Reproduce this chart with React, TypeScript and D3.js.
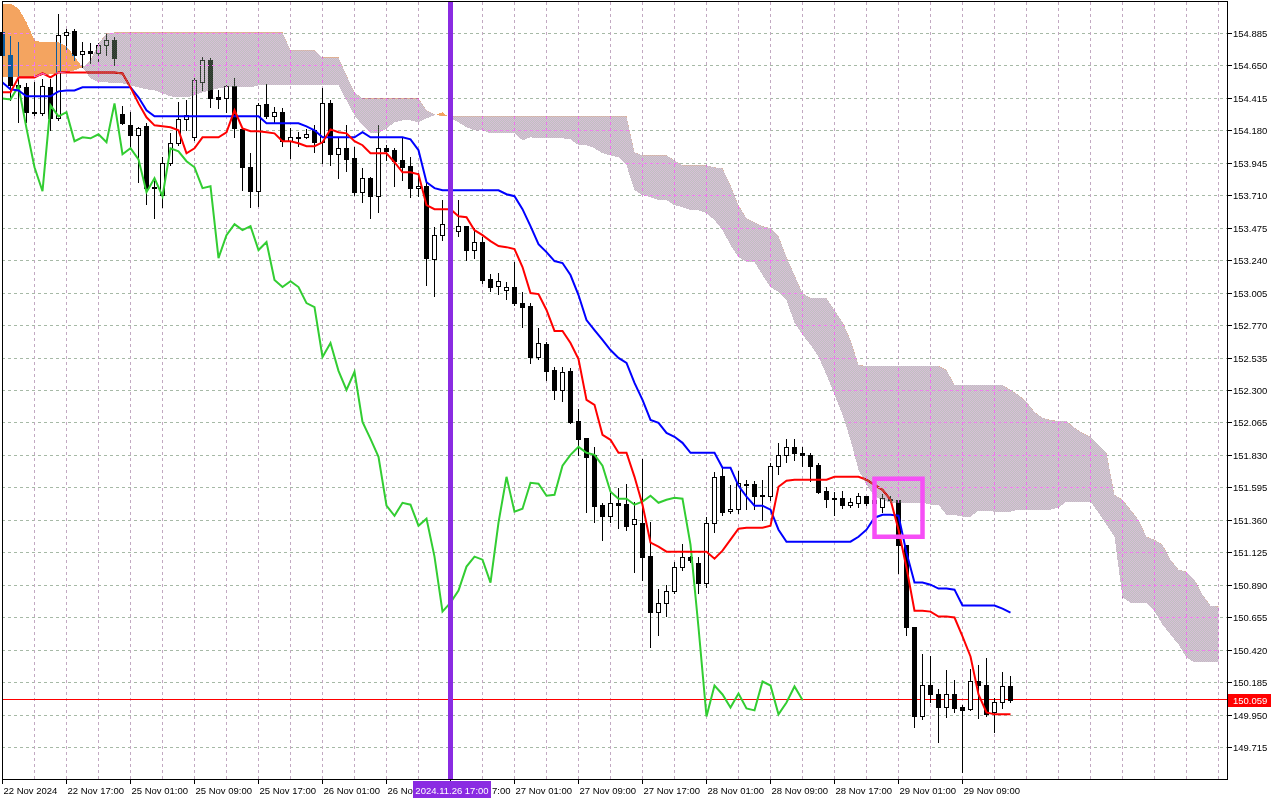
import React, { useRef, useEffect } from 'react';
import * as d3 from 'd3';

// USDJPY-like H1 candles, bar 0 = 22 Nov 09:00
const OPEN = [
  154.893, 154.726, 154.510, 154.495, 154.315, 154.308, 154.495, 154.271, 154.871, 154.900,
  154.733, 154.755, 154.741, 154.799, 154.835, 154.300, 154.220, 154.148, 154.213, 153.765,
  153.714, 153.945, 154.090, 154.264, 154.133, 154.531, 154.690, 154.423, 154.415, 154.503,
  154.191, 153.916, 153.743, 154.372, 154.285, 154.315, 154.105, 154.133, 154.133, 154.184,
  154.097, 154.379, 154.011, 154.054, 153.982, 153.736, 153.837, 153.707, 154.054, 154.040,
  153.967, 153.924, 153.765, 153.779, 153.252, 153.425, 153.505, 153.454, 153.490, 153.317,
  153.375, 153.107, 153.056, 153.027, 153.049, 152.933, 152.912, 152.543, 152.637, 152.449,
  152.304, 152.442, 152.080, 151.957, 151.834, 151.473, 151.393, 151.487, 151.480, 151.336,
  151.343, 151.104, 150.699, 150.764, 150.851, 151.025, 151.097, 151.054, 150.909, 151.343,
  151.683, 151.429, 151.444, 151.617, 151.625, 151.538, 151.538, 151.755, 151.834, 151.892,
  151.849, 151.834, 151.762, 151.574, 151.523, 151.523, 151.473, 151.487, 151.538, 151.487,
  151.458, 151.509, 151.509, 151.184, 150.584, 149.940, 150.164, 150.106, 150.005, 150.106,
  150.005, 149.991, 150.193, 150.164, 149.969, 150.041, 150.157,
];
const HIGH = [
  154.921, 154.864, 154.821, 154.524, 154.532, 154.553, 154.553, 155.023, 154.921, 154.921,
  154.821, 154.813, 154.813, 154.885, 154.857, 154.358, 154.315, 154.206, 154.234, 153.837,
  153.989, 154.162, 154.386, 154.401, 154.560, 154.712, 154.704, 154.473, 154.510, 154.560,
  154.198, 154.018, 154.379, 154.517, 154.350, 154.343, 154.198, 154.170, 154.191, 154.220,
  154.488, 154.401, 154.126, 154.220, 154.061, 153.909, 153.844, 154.220, 154.076, 154.054,
  154.126, 153.989, 153.873, 153.801, 153.483, 153.678, 153.548, 153.678, 153.490, 153.476,
  153.411, 153.143, 153.150, 153.085, 153.230, 153.013, 152.933, 152.753, 152.651, 152.471,
  152.471, 152.463, 152.167, 151.957, 151.892, 151.487, 151.560, 151.596, 151.625, 151.495,
  151.805, 151.350, 150.866, 150.894, 151.061, 151.191, 151.104, 151.097, 151.386, 151.711,
  151.740, 151.617, 151.719, 151.654, 151.646, 151.654, 151.776, 151.921, 151.950, 151.950,
  151.892, 151.849, 151.776, 151.603, 151.567, 151.574, 151.523, 151.560, 151.538, 151.531,
  151.552, 151.538, 151.509, 151.184, 150.584, 150.395, 150.374, 150.142, 150.273, 150.207,
  150.020, 150.280, 150.309, 150.366, 150.077, 150.265, 150.236,
];
const LOW = [
  154.690, 154.401, 154.242, 154.242, 154.293, 154.293, 154.184, 154.256, 154.763, 154.690,
  154.640, 154.668, 154.668, 154.726, 154.654, 154.227, 154.054, 153.808, 153.649, 153.548,
  153.627, 153.931, 154.076, 154.184, 154.112, 154.473, 154.350, 154.343, 154.315, 154.133,
  153.750, 153.627, 153.635, 154.271, 154.242, 154.069, 153.982, 154.069, 154.126, 154.025,
  153.945, 153.931, 153.837, 153.888, 153.714, 153.664, 153.548, 153.591, 153.967, 153.779,
  153.823, 153.700, 153.707, 153.063, 152.984, 153.389, 153.418, 153.418, 153.244, 153.259,
  153.078, 153.020, 152.998, 152.962, 152.919, 152.760, 152.500, 152.529, 152.377, 152.239,
  152.225, 152.066, 151.835, 151.422, 151.350, 151.220, 151.350, 151.307, 151.292, 150.988,
  150.930, 150.446, 150.533, 150.670, 150.837, 151.003, 151.061, 150.837, 150.880, 151.278,
  151.400, 151.415, 151.415, 151.444, 151.444, 151.364, 151.509, 151.697, 151.784, 151.798,
  151.755, 151.646, 151.560, 151.458, 151.400, 151.451, 151.458, 151.458, 151.473, 151.458,
  151.422, 151.495, 150.981, 150.526, 149.860, 149.918, 150.048, 149.752, 149.933, 149.969,
  149.535, 149.984, 149.926, 149.940, 149.824, 149.998, 150.048,
];
const CLOSE = [
  154.726, 154.510, 154.495, 154.315, 154.308, 154.503, 154.271, 154.871, 154.893, 154.726,
  154.755, 154.741, 154.799, 154.835, 154.704, 154.234, 154.148, 154.198, 153.765, 153.772,
  153.945, 154.090, 154.264, 154.293, 154.546, 154.690, 154.415, 154.408, 154.503, 154.198,
  153.916, 153.743, 154.365, 154.285, 154.315, 154.105, 154.133, 154.126, 154.155, 154.097,
  154.379, 154.011, 154.054, 153.974, 153.736, 153.837, 153.707, 154.054, 154.032, 153.960,
  153.916, 153.765, 153.779, 153.259, 153.425, 153.505, 153.461, 153.490, 153.317, 153.375,
  153.100, 153.049, 153.092, 153.049, 152.933, 152.904, 152.543, 152.644, 152.442, 152.304,
  152.435, 152.073, 151.950, 151.820, 151.466, 151.393, 151.487, 151.473, 151.321, 151.372,
  151.097, 150.699, 150.764, 150.851, 151.025, 151.097, 151.075, 150.909, 151.343, 151.675,
  151.422, 151.444, 151.632, 151.625, 151.538, 151.545, 151.755, 151.834, 151.892, 151.849,
  151.834, 151.755, 151.567, 151.516, 151.516, 151.473, 151.495, 151.538, 151.487, 151.509,
  151.523, 151.516, 151.184, 150.584, 149.940, 150.164, 150.099, 150.005, 150.106, 149.998,
  149.984, 150.193, 150.164, 149.955, 150.041, 150.157, 150.059,
];

const TENKAN = [
  154.459, 154.459, 154.567, 154.567, 154.567, 154.596, 154.567, 154.603, 154.603, 154.603,
  154.603, 154.603, 154.603, 154.603, 154.603, 154.596, 154.495, 154.379, 154.278, 154.220,
  154.213, 154.206, 154.184, 154.018, 154.054, 154.133, 154.133, 154.133, 154.170, 154.329,
  154.198, 154.177, 154.177, 154.170, 154.162, 154.105, 154.105, 154.090, 154.069, 154.069,
  154.097, 154.191, 154.170, 154.162, 154.105, 154.076, 154.018, 154.018, 154.018, 153.953,
  153.880, 153.880, 153.866, 153.642, 153.613, 153.613, 153.613, 153.562, 153.555, 153.461,
  153.425, 153.382, 153.346, 153.338, 153.324, 153.194, 153.006, 152.998, 152.883, 152.731,
  152.731, 152.644, 152.528, 152.232, 152.196, 151.979, 151.943, 151.849, 151.849, 151.675,
  151.473, 151.198, 151.169, 151.133, 151.133, 151.133, 151.133, 151.133, 151.133, 151.082,
  151.140, 151.220, 151.299, 151.307, 151.307, 151.307, 151.321, 151.603, 151.646, 151.654,
  151.654, 151.654, 151.654, 151.654, 151.675, 151.675, 151.675, 151.675, 151.654, 151.617,
  151.581, 151.509, 151.292, 151.017, 150.706, 150.706, 150.699, 150.663, 150.663, 150.656,
  150.519, 150.374, 150.099, 149.969, 149.955, 149.955, 149.955,
];
const KIJUN = [
  154.531, 154.481, 154.473, 154.430, 154.430, 154.430, 154.430, 154.466, 154.473, 154.473,
  154.495, 154.495, 154.495, 154.495, 154.495, 154.495, 154.495, 154.423, 154.329, 154.285,
  154.285, 154.285, 154.285, 154.285, 154.285, 154.285, 154.285, 154.285, 154.285, 154.285,
  154.285, 154.285, 154.285, 154.235, 154.235, 154.235, 154.235, 154.235, 154.213, 154.184,
  154.133, 154.133, 154.133, 154.133, 154.133, 154.170, 154.133, 154.133, 154.133, 154.133,
  154.133, 154.119, 154.040, 153.808, 153.765, 153.750, 153.750, 153.750, 153.750, 153.750,
  153.750, 153.750, 153.750, 153.721, 153.707, 153.613, 153.490, 153.360, 153.302, 153.237,
  153.223, 153.136, 152.991, 152.810, 152.738, 152.666, 152.593, 152.536, 152.500, 152.355,
  152.232, 152.087, 152.066, 151.993, 151.965, 151.921, 151.849, 151.849, 151.849, 151.849,
  151.740, 151.740, 151.610, 151.531, 151.466, 151.466, 151.437, 151.292, 151.205, 151.205,
  151.205, 151.205, 151.205, 151.205, 151.205, 151.205, 151.205, 151.241, 151.292, 151.379,
  151.400, 151.400, 151.393, 151.126, 150.909, 150.909, 150.894, 150.866, 150.866, 150.858,
  150.743, 150.743, 150.743, 150.743, 150.743, 150.721, 150.692,
];

// cloud, already shifted 26 bars forward (bars 0..152)
const SENKOU_A = [
  155.102, 155.102, 155.066, 154.965, 154.835, 154.820, 154.820, 154.820, 154.791, 154.719,
  154.640, 154.560, 154.531, 154.531, 154.524, 154.524, 154.510, 154.495, 154.481, 154.473,
  154.452, 154.430, 154.423, 154.423, 154.437, 154.459, 154.473, 154.488, 154.495, 154.495,
  154.495, 154.495, 154.510, 154.510, 154.510, 154.510, 154.510, 154.510, 154.510, 154.510,
  154.510, 154.510, 154.510, 154.401, 154.293, 154.220, 154.162, 154.162, 154.198, 154.242,
  154.256, 154.256, 154.242, 154.271, 154.293, 154.314, 154.271, 154.242, 154.206, 154.184,
  154.184, 154.162, 154.162, 154.162, 154.162, 154.112, 154.133, 154.126, 154.126, 154.126,
  154.126, 154.119, 154.076, 154.076, 154.054, 154.018, 154.003, 153.989, 153.931, 153.750,
  153.714, 153.700, 153.678, 153.678, 153.642, 153.627, 153.606, 153.606, 153.584, 153.533,
  153.461, 153.353, 153.266, 153.230, 153.230, 153.136, 153.049, 153.013, 152.955, 152.789,
  152.702, 152.630, 152.543, 152.413, 152.268, 152.124, 151.943, 151.726, 151.617, 151.531,
  151.509, 151.487, 151.487, 151.487, 151.487, 151.487, 151.473, 151.473, 151.400, 151.400,
  151.386, 151.386, 151.430, 151.430, 151.422, 151.422, 151.422, 151.437, 151.437, 151.437,
  151.437, 151.437, 151.451, 151.495, 151.495, 151.495, 151.495, 151.415, 151.328, 151.241,
  150.801, 150.764, 150.764, 150.764, 150.699, 150.605, 150.533, 150.461, 150.367, 150.331,
  150.331, 150.331, 150.331,
];
const SENKOU_B = [
  154.567, 154.567, 154.567, 154.567, 154.567, 154.582, 154.589, 154.596, 154.603, 154.618,
  154.640, 154.690, 154.813, 154.885, 154.893, 154.893, 154.893, 154.893, 154.893, 154.893,
  154.893, 154.893, 154.893, 154.893, 154.893, 154.893, 154.893, 154.893, 154.893, 154.893,
  154.893, 154.893, 154.893, 154.893, 154.893, 154.893, 154.763, 154.763, 154.763, 154.763,
  154.712, 154.712, 154.712, 154.582, 154.459, 154.415, 154.415, 154.415, 154.415, 154.415,
  154.415, 154.415, 154.415, 154.329, 154.300, 154.285, 154.285, 154.285, 154.285, 154.285,
  154.285, 154.285, 154.285, 154.285, 154.285, 154.285, 154.285, 154.285, 154.285, 154.285,
  154.285, 154.285, 154.285, 154.285, 154.285, 154.285, 154.285, 154.285, 154.285, 154.025,
  154.003, 154.003, 154.003, 154.003, 153.967, 153.931, 153.931, 153.931, 153.931, 153.916,
  153.909, 153.786, 153.642, 153.548, 153.519, 153.490, 153.476, 153.418, 153.266, 153.136,
  153.006, 152.969, 152.969, 152.969, 152.883, 152.796, 152.666, 152.485, 152.478, 152.478,
  152.478, 152.478, 152.478, 152.478, 152.478, 152.478, 152.478, 152.478, 152.449, 152.340,
  152.340, 152.340, 152.340, 152.340, 152.340, 152.340, 152.304, 152.268, 152.218, 152.145,
  152.102, 152.087, 152.080, 152.080, 152.030, 151.993, 151.965, 151.907, 151.849, 151.545,
  151.509, 151.437, 151.364, 151.241, 151.220, 151.184, 151.075, 151.003, 150.988, 150.930,
  150.822, 150.743, 150.736,
];

const CHIKOU_SHIFT = 26;

const PRICE_TICKS = [
  154.885, 154.65, 154.415, 154.18, 153.945, 153.71, 153.475, 153.24, 153.005, 152.77, 152.535,
  152.3, 152.065, 151.83, 151.595, 151.36, 151.125, 150.89, 150.655, 150.42, 150.185, 149.95, 149.715,
];
const TIME_LABELS = [
  '22 Nov 2024', '22 Nov 17:00', '25 Nov 01:00', '25 Nov 09:00', '25 Nov 17:00', '26 Nov 01:00',
  '26 Nov 09:00', '26 Nov 17:00', '27 Nov 01:00', '27 Nov 09:00', '27 Nov 17:00', '28 Nov 01:00',
  '28 Nov 09:00', '28 Nov 17:00', '29 Nov 01:00', '29 Nov 09:00',
];
const TIME_LABEL_BARS = [0, 8, 16, 24, 32, 40, 48, 56, 64, 72, 80, 88, 96, 104, 112, 120];

const LAST_PRICE = 150.059;
const MARKED_BAR = 56;
const MARKED_LABEL = '2024.11.26 17:00';
const BOX_BARS = [109, 115];
const BOX_PRICES = [151.661, 151.241];

const FONT = "'Liberation Sans', Arial, sans-serif";

const App: React.FC = () => {
  const svgRef = useRef<SVGSVGElement>(null);

  useEffect(() => {
    document.body.style.margin = '0';
    if (!svgRef.current) return;
    const svg = d3.select(svgRef.current);
    svg.selectAll('*').remove();

    const left = 2, top = 2, right = 1227, bottom = 779;
    const nBars = SENKOU_A.length;

    const x = d3.scaleLinear().domain([0, nBars - 1]).range([2.5, 2.5 + 8 * (nBars - 1)]);
    const y = d3.scaleLinear().domain([149.715, 154.885]).range([747.5, 33.5]);
    const py = (v: number) => Math.round(y(v) - 0.5) + 0.5;

    svg.append('rect').attr('width', 1280).attr('height', 800).attr('fill', '#ffffff');

    const defs = svg.append('defs');

    // grid
    const grid = svg.append('g').attr('shape-rendering', 'crispEdges');
    grid.selectAll('line.h')
      .data(PRICE_TICKS)
      .join('line')
      .attr('x1', left).attr('x2', right)
      .attr('y1', d => py(d)).attr('y2', d => py(d))
      .attr('stroke', '#a6b9a6')
      .attr('stroke-dasharray', '3,3');
    const vBars = d3.range(4, nBars, 4);
    grid.selectAll('line.v')
      .data(vBars)
      .join('line')
      .attr('x1', d => x(d)).attr('x2', d => x(d))
      .attr('y1', top).attr('y2', bottom)
      .attr('stroke', '#c2a9c2')
      .attr('stroke-dasharray', '3,3');

    // last price line
    svg.append('line')
      .attr('x1', left).attr('x2', right)
      .attr('y1', py(LAST_PRICE)).attr('y2', py(LAST_PRICE))
      .attr('stroke', '#ff0000')
      .attr('shape-rendering', 'crispEdges');

    // candles
    const candles = svg.append('g').attr('shape-rendering', 'crispEdges');
    CLOSE.forEach((c, i) => {
      const o = OPEN[i];
      const cx = x(i);
      candles.append('line')
        .attr('x1', cx).attr('x2', cx)
        .attr('y1', Math.round(y(HIGH[i]))).attr('y2', Math.round(y(LOW[i])) + 1)
        .attr('stroke', '#000');
      const y0 = Math.round(y(Math.max(o, c)));
      const y1 = Math.round(y(Math.min(o, c)));
      if (c >= o) {
        candles.append('rect')
          .attr('x', cx - 2).attr('y', y0 + 0.5)
          .attr('width', 4).attr('height', Math.max(1, y1 - y0))
          .attr('fill', '#fff').attr('stroke', '#000');
      } else {
        candles.append('rect')
          .attr('x', cx - 2.5).attr('y', y0)
          .attr('width', 5).attr('height', Math.max(1, y1 - y0 + 1))
          .attr('fill', '#000');
      }
    });

    // lines
    const chikouIdx = d3.range(CLOSE.length - CHIKOU_SHIFT);
    svg.append('path')
      .attr('d', d3.line<number>().x(d => x(d)).y(d => y(CLOSE[d + CHIKOU_SHIFT]))(chikouIdx))
      .attr('fill', 'none').attr('stroke', '#32cd32').attr('stroke-width', 2);
    svg.append('path')
      .attr('d', d3.line<number>().x(d => x(d)).y(d => y(KIJUN[d]))(d3.range(KIJUN.length)))
      .attr('fill', 'none').attr('stroke', '#0000ff').attr('stroke-width', 2);
    svg.append('path')
      .attr('d', d3.line<number>().x(d => x(d)).y(d => y(TENKAN[d]))(d3.range(TENKAN.length)))
      .attr('fill', 'none').attr('stroke', '#ff0000').attr('stroke-width', 2);

    // cloud (xor-like via difference blending): shows thistle/silver dither on white
    const idx = d3.range(nBars);
    const pat = defs.append('pattern')
      .attr('id', 'kumoDn').attr('width', 2).attr('height', 2)
      .attr('patternUnits', 'userSpaceOnUse');
    pat.append('rect').attr('width', 2).attr('height', 2).attr('fill', '#3f3f3f');
    pat.append('rect').attr('width', 1).attr('height', 1).attr('fill', '#274027');
    pat.append('rect').attr('x', 1).attr('y', 1).attr('width', 1).attr('height', 1).attr('fill', '#274027');

    const aboveB = d3.area<number>().x(d => x(d)).y0(0).y1(d => y(SENKOU_B[d]));
    const belowB = d3.area<number>().x(d => x(d)).y0(d => y(SENKOU_B[d])).y1(800);
    defs.append('clipPath').attr('id', 'clipUp').append('path').attr('d', aboveB(idx));
    defs.append('clipPath').attr('id', 'clipDn').append('path').attr('d', belowB(idx));
    const band = d3.area<number>().x(d => x(d)).y0(d => y(SENKOU_A[d])).y1(d => y(SENKOU_B[d]));
    defs.append('clipPath').attr('id', 'clipKumo').append('path').attr('d', band(idx));

    svg.append('path')
      .attr('d', band(idx))
      .attr('fill', '#0b5b9f')
      .attr('clip-path', 'url(#clipUp)')
      .attr('shape-rendering', 'crispEdges')
      .style('mix-blend-mode', 'difference');
    svg.append('path')
      .attr('d', band(idx))
      .attr('fill', 'url(#kumoDn)')
      .attr('clip-path', 'url(#clipDn)')
      .attr('shape-rendering', 'crispEdges')
      .style('mix-blend-mode', 'difference');

    // grid seen through the cloud
    const kGrid = svg.append('g').attr('clip-path', 'url(#clipKumo)').attr('shape-rendering', 'crispEdges');
    kGrid.selectAll('line.h')
      .data(PRICE_TICKS)
      .join('line')
      .attr('x1', left).attr('x2', right)
      .attr('y1', d => py(d)).attr('y2', d => py(d))
      .attr('stroke', '#f080f0').attr('stroke-dasharray', '3,3');
    kGrid.selectAll('line.v')
      .data(vBars)
      .join('line')
      .attr('x1', d => x(d)).attr('x2', d => x(d))
      .attr('y1', top).attr('y2', bottom)
      .attr('stroke', '#f070f0').attr('stroke-dasharray', '3,3');

    // marked bar
    svg.append('line')
      .attr('x1', x(MARKED_BAR)).attr('x2', x(MARKED_BAR))
      .attr('y1', top).attr('y2', bottom)
      .attr('stroke', '#8a2be2').attr('stroke-width', 5)
      .attr('shape-rendering', 'crispEdges');

    // highlight box
    svg.append('rect')
      .attr('x', x(BOX_BARS[0])).attr('y', y(BOX_PRICES[0]))
      .attr('width', x(BOX_BARS[1]) - x(BOX_BARS[0]))
      .attr('height', y(BOX_PRICES[1]) - y(BOX_PRICES[0]))
      .attr('fill', 'none').attr('stroke', '#f64ef6').attr('stroke-width', 4.5);

    // frame
    svg.append('rect')
      .attr('x', 2.5).attr('y', 1.5).attr('width', 1225).attr('height', bottom - 1)
      .attr('fill', 'none').attr('stroke', '#000')
      .attr('shape-rendering', 'crispEdges');

    // price axis
    const pAxis = svg.append('g').attr('font-family', FONT).attr('font-size', '9.5px');
    pAxis.selectAll('line')
      .data(PRICE_TICKS)
      .join('line')
      .attr('x1', 1228).attr('x2', 1232)
      .attr('y1', d => py(d)).attr('y2', d => py(d))
      .attr('stroke', '#000').attr('shape-rendering', 'crispEdges');
    pAxis.selectAll('text')
      .data(PRICE_TICKS)
      .join('text')
      .attr('x', 1233).attr('y', d => py(d) + 3.5)
      .attr('fill', '#000')
      .text(d => d.toFixed(3));

    const lp = y(LAST_PRICE);
    pAxis.append('rect')
      .attr('x', 1228).attr('y', Math.round(lp) - 6)
      .attr('width', 43).attr('height', 13)
      .attr('fill', '#ff0000');
    pAxis.append('text')
      .attr('x', 1233).attr('y', Math.round(lp) + 4)
      .attr('fill', '#fff')
      .text(LAST_PRICE.toFixed(3));

    // time axis
    const mx = x(MARKED_BAR);
    const bx0 = mx - 37.5, bx1 = mx + 40.5;

    const tAxis = svg.append('g').attr('font-family', FONT).attr('font-size', '9.5px');
    tAxis.selectAll('line')
      .data(TIME_LABEL_BARS)
      .join('line')
      .attr('x1', d => x(d)).attr('x2', d => x(d))
      .attr('y1', bottom).attr('y2', bottom + 5)
      .attr('stroke', '#000').attr('shape-rendering', 'crispEdges');

    // labels partly hidden under the cursor label keep only their visible part
    TIME_LABEL_BARS.forEach((b, i) => {
      const full = TIME_LABELS[i];
      const x0 = x(b) + 1;
      const t = tAxis.append('text').attr('x', x0).attr('y', 794).attr('fill', '#000').text(full);
      const node = t.node() as SVGTextElement;
      const end = x0 + node.getComputedTextLength();
      if (x0 >= bx1 || end <= bx0) return;
      if (x0 < bx0) {
        let s = full;
        while (s.length && x0 + node.getComputedTextLength() > bx0) {
          s = s.slice(0, -1);
          t.text(s);
        }
      } else {
        let s = full;
        t.attr('x', bx1 + 1);
        while (s.length && bx1 + 1 + node.getComputedTextLength() > end + 3) {
          s = s.slice(1);
          t.text(s);
        }
        t.text(s.trimStart());
      }
    });

    tAxis.append('rect')
      .attr('x', bx0).attr('y', 781)
      .attr('width', bx1 - bx0).attr('height', 17)
      .attr('fill', '#8a2be2');
    tAxis.append('text')
      .attr('x', (bx0 + bx1) / 2).attr('y', 794)
      .attr('text-anchor', 'middle')
      .attr('fill', '#fff')
      .text(MARKED_LABEL);
  }, []);

  return <svg ref={svgRef} width={1280} height={800} style={{ display: 'block' }} />;
};

export default App;
